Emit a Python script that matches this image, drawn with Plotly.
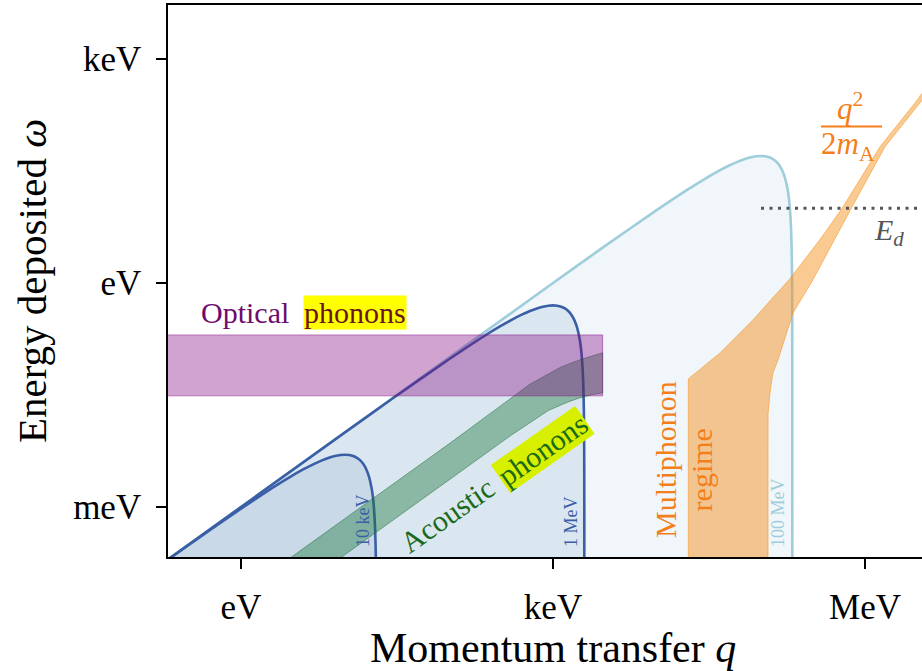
import plotly.graph_objects as go

# ---------------- data (q and omega in eV) ----------------
# kinematic boundaries for dark matter masses
q_10keV = [0.1, 0.3, 1, 2, 3, 4, 5, 6, 7, 8, 9, 10, 11, 12, 13, 14, 15, 16, 17, 18, 18.5, 19, 19.5, 19.8, 19.9, 19.95, 19.99]
w_10keV = [9.95e-5, 2.96e-4, 9.5e-4, 1.8e-3, 2.55e-3, 3.2e-3, 3.75e-3, 4.2e-3, 4.55e-3, 4.8e-3, 4.95e-3, 5.0e-3,
           4.95e-3, 4.8e-3, 4.55e-3, 4.2e-3, 3.75e-3, 3.2e-3, 2.55e-3, 1.8e-3, 1.39e-3, 9.5e-4, 4.9e-4, 2.0e-4,
           1.0e-4, 5.0e-5, 1.0e-5]

q_1MeV = [0.1, 10, 30, 100, 200, 300, 400, 500, 600, 700, 800, 900, 1000, 1100, 1200, 1300, 1400, 1500, 1600,
          1700, 1800, 1850, 1900, 1950, 1980, 1990, 1995, 1999, 2000]
w_1MeV = [1e-4, 9.95e-3, 2.96e-2, 9.5e-2, 0.18, 0.255, 0.32, 0.375, 0.42, 0.455, 0.48, 0.495, 0.5, 0.495, 0.48,
          0.455, 0.42, 0.375, 0.32, 0.255, 0.18, 0.139, 0.095, 0.049, 0.0198, 0.00995, 0.005, 0.001, 1e-5]

q_100MeV = [0.1, 1e3, 3e3, 1e4, 2e4, 3e4, 4e4, 5e4, 6e4, 7e4, 8e4, 9e4, 1e5, 1.1e5, 1.2e5, 1.3e5, 1.4e5, 1.5e5,
            1.6e5, 1.7e5, 1.8e5, 1.85e5, 1.9e5, 1.95e5, 1.98e5, 1.99e5, 1.995e5, 1.999e5, 2e5]
w_100MeV = [1e-4, 0.995, 2.96, 9.5, 18, 25.5, 32, 37.5, 42, 45.5, 48, 49.5, 50, 49.5, 48, 45.5, 42, 37.5, 32,
            25.5, 18, 13.9, 9.5, 4.9, 1.98, 0.995, 0.5, 0.1, 1e-5]

# acoustic phonon band
q_ac_hi = [1, 100, 600, 1200, 1800, 2400, 3000]
w_ac_hi = [7e-5, 7e-3, 0.044, 0.075, 0.093, 0.106, 0.116]
q_ac_lo = [1, 100, 400, 900, 1400, 1800, 2400, 3000]
w_ac_lo = [2.3e-5, 2.3e-3, 9.2e-3, 0.0195, 0.0255, 0.0288, 0.032, 0.0336]

# optical phonon band
q_opt = [0.05, 3000]
w_opt = [0.0307, 0.201]

# multiphonon regime
q_mp_hi = [2e4, 2e4, 4.03e4, 8.38e4, 1.86e5, 3.86e5, 6.14e5, 1.393e6, 3.03e6, 6.6e6]
w_mp_hi = [1e-4, 0.0518, 0.1155, 0.32, 1.1, 4.13, 10.4, 66.3, 257, 1130]
q_mp_lo = [1.167e5, 1.167e5, 1.17e5, 1.22e5, 1.3e5, 1.456e5, 2.03e5, 3.16e5, 7.5e5, 1.556e6, 3.38e6, 7.3e6]
w_mp_lo = [1e-4, 5e-3, 0.0182, 0.0336, 0.0623, 0.093, 0.396, 1.1, 10.4, 66.3, 257, 1130]

# displacement energy
E_d = 10.0
q_Ed = [1e5, 1e7]

x_tickvals = [1, 1e3, 1e6]
x_ticktext = ["eV", "keV", "MeV"]
y_tickvals = [1e-3, 1, 1e3]
y_ticktext = ["meV", "eV", "keV"]

FONT = "Liberation Serif"
DARKBLUE = "#3b5fa6"
LIGHTBLUE = "#9ecddb"
ORANGE = "#f47f1a"

fig = go.Figure()

# DM kinematic regions
for qs, ws, fc, lc in [(q_100MeV, w_100MeV, "#f0f6fa", LIGHTBLUE),
                       (q_1MeV, w_1MeV, "#dbe7f0", DARKBLUE),
                       (q_10keV, w_10keV, "#c9d9e8", DARKBLUE)]:
    fig.add_trace(go.Scatter(x=qs, y=ws, mode="lines", fill="toself", fillcolor=fc,
                             line=dict(color=lc, width=2.6, shape="spline", smoothing=0.6),
                             hoverinfo="skip", showlegend=False))

# acoustic band
fig.add_trace(go.Scatter(x=q_ac_hi + q_ac_lo[::-1], y=w_ac_hi + w_ac_lo[::-1], mode="lines",
                         fill="toself", fillcolor="rgba(20,115,50,0.40)",
                         line=dict(color="rgba(20,100,40,0.45)", width=1),
                         hoverinfo="skip", showlegend=False))

# optical band
fig.add_trace(go.Scatter(x=[q_opt[0], q_opt[1], q_opt[1], q_opt[0], q_opt[0]],
                         y=[w_opt[0], w_opt[0], w_opt[1], w_opt[1], w_opt[0]], mode="lines",
                         fill="toself", fillcolor="rgba(128,0,128,0.36)",
                         line=dict(color="rgba(128,0,128,0.45)", width=1),
                         hoverinfo="skip", showlegend=False))

# multiphonon
fig.add_trace(go.Scatter(x=q_mp_hi + q_mp_lo[::-1], y=w_mp_hi + w_mp_lo[::-1], mode="lines",
                         fill="toself", fillcolor="rgba(245,145,30,0.48)",
                         line=dict(color="rgba(245,145,30,0.55)", width=1),
                         hoverinfo="skip", showlegend=False))

# E_d
fig.add_trace(go.Scatter(x=q_Ed, y=[E_d, E_d], mode="lines",
                         line=dict(color="#555555", width=3, dash="3px,5.5px"),
                         hoverinfo="skip", showlegend=False))


def ann(x, y, text, size, color, angle=0, bg=None, **kw):
    d = dict(x=x, y=y, xref="x", yref="y", text=text, showarrow=False,
             font=dict(family=FONT, size=size, color=color), textangle=angle,
             xanchor="center", yanchor="middle", borderpad=0)
    if bg:
        d["bgcolor"] = bg
    d.update(kw)
    fig.add_annotation(**d)


ann(0.038, -0.40, "Optical", 30, "#6e0a6e")
ann(1.093, -0.40, "phonons", 30, "#6b1424", bg="#ffff00")
ann(1.990, -3.107, "Acoustic", 30, "#1a6a1a", angle=-35)
ann(2.901, -2.237, "phonons", 30, "#1a6a1a", angle=-35, bg="#d6f000")
ann(4.087, -2.37, "Multiphonon", 30, ORANGE, angle=-90)
ann(4.428, -2.504, "regime", 30, ORANGE, angle=-90)
ann(1.173, -3.187, "10 keV", 18, DARKBLUE, angle=-90)
ann(3.173, -3.20, "1 MeV", 18, DARKBLUE, angle=-90)
ann(5.163, -3.067, "100 MeV", 18, LIGHTBLUE, angle=-90)
ann(5.856, 2.36, "<i>q</i><sup>2</sup>", 31, ORANGE)
ann(5.837, 1.83, "2<i>m</i><sub>A</sub>", 31, ORANGE)
ann(6.23, 0.683, "<i>E</i><sub><i>d</i></sub>", 30, "#555555")

L, R, T, B = 168, 922, 5, 557

# x-axis title (as paper annotation so it sits where the reference has it)
fig.add_annotation(x=(553 - L) / (R - L), y=(B - 648) / (B - T), xref="paper", yref="paper",
                   text="Momentum transfer <i>q</i>", showarrow=False,
                   font=dict(family=FONT, size=42, color="black"),
                   xanchor="center", yanchor="middle")

# fraction bar (paper coords)
fig.add_shape(type="line", xref="paper", yref="paper",
              x0=(821 - L) / (R - L), x1=(882 - L) / (R - L),
              y0=(B - 126.5) / (B - T), y1=(B - 126.5) / (B - T),
              line=dict(color=ORANGE, width=2))

fig.update_layout(
    width=922, height=671,
    margin=dict(l=L, r=922 - R, t=T, b=671 - B),
    paper_bgcolor="white", plot_bgcolor="white",
    showlegend=False,
    font=dict(family=FONT, color="black"),
    xaxis=dict(type="log", range=[-0.702, 6.548], showgrid=False, zeroline=False,
               showline=True, linecolor="black", linewidth=1.6, mirror=True,
               ticks="outside", ticklen=10, tickwidth=1.6, tickcolor="black",
               tickvals=x_tickvals, ticktext=x_ticktext, tickfont=dict(size=35, family=FONT),
               ticklabelstandoff=8),
    yaxis=dict(type="log", range=[-3.67, 3.72], showgrid=False, zeroline=False,
               showline=True, linecolor="black", linewidth=1.6, mirror=False,
               ticks="outside", ticklen=10, tickwidth=1.6, tickcolor="black",
               tickvals=y_tickvals, ticktext=y_ticktext, tickfont=dict(size=35, family=FONT),
               ticklabelstandoff=8,
               title=dict(text="Energy deposited <i>ω</i>", font=dict(size=41, family=FONT), standoff=14)),
)

fig.write_html("out.html")
